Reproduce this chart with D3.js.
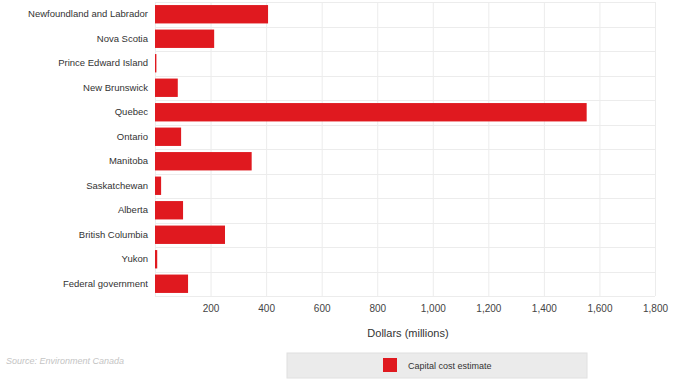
<!DOCTYPE html>
<html><head><meta charset="utf-8">
<script src="https://cdn.jsdelivr.net/npm/d3@7"></script>
<style>body{margin:0;background:#fff;}svg{display:block;font-family:"Liberation Sans",Arial,sans-serif;}</style>
</head><body><svg id="c" width="678" height="381"></svg>
<script>
const categories = ["Newfoundland and Labrador","Nova Scotia","Prince Edward Island","New Brunswick","Quebec","Ontario","Manitoba","Saskatchewan","Alberta","British Columbia","Yukon","Federal government"];
const values = [407,213,5,82,1554,94,348,22,101,252,8,119];
const xTicks = [200,400,600,800,1000,1200,1400,1600,1800];
const seriesName = "Capital cost estimate";
const xTitle = "Dollars (millions)";
const source = "Source: Environment Canada";

const svg = d3.select("#c");
const m = {l:155, r:655, t:2, b:296};
const x = d3.scaleLinear().domain([0,1800]).range([m.l,m.r]);
const y = d3.scaleBand().domain(categories).range([m.t,m.b]).paddingInner(0.25).paddingOuter(0.125);
const red = "#e0191f";

// gridlines
const g = svg.append("g");
g.selectAll(".v").data([0].concat(xTicks)).join("line")
  .attr("x1",d=>x(d)+0.5).attr("x2",d=>x(d)+0.5).attr("y1",m.t).attr("y2",m.b)
  .attr("stroke","#ececec").attr("stroke-width",1);
const bandEdges = categories.map(c=>y(c)-y.step()*y.paddingInner()/2).concat([m.b]);
g.selectAll(".h").data(bandEdges).join("line")
  .attr("x1",m.l).attr("x2",m.r).attr("y1",d=>Math.round(d)+0.5).attr("y2",d=>Math.round(d)+0.5)
  .attr("stroke","#ececec").attr("stroke-width",1);

// bars
svg.append("g").selectAll("rect").data(categories).join("rect")
  .attr("x",x(0)).attr("y",d=>y(d)).attr("height",y.bandwidth())
  .attr("width",(d,i)=>x(values[i])-x(0)).attr("fill",red);

// category labels
const ya = svg.append("g").attr("transform",`translate(${m.l-7},0)`)
  .call(d3.axisLeft(y).tickSize(0).tickPadding(0));
ya.select(".domain").remove();
ya.selectAll("text").attr("font-size","9.5px").attr("fill","#333").attr("font-family","Liberation Sans, Arial, sans-serif");

// x axis
const xa = svg.append("g").attr("transform",`translate(0,${m.b})`)
  .call(d3.axisBottom(x).tickValues(xTicks).tickSize(0).tickPadding(9).tickFormat(d3.format(",")));
xa.select(".domain").remove();
xa.selectAll("text").attr("font-size","10px").attr("fill","#444").attr("font-family","Liberation Sans, Arial, sans-serif");

svg.append("text").attr("x",(x(0)+x(1800))/2+3).attr("y",337).attr("text-anchor","middle")
  .attr("font-size","11px").attr("fill","#333").text(xTitle);

// source
svg.append("text").attr("x",6).attr("y",364).attr("font-size","9px").attr("font-style","italic")
  .attr("fill","#c4c4c4").text(source);

// legend
svg.append("rect").attr("x",287).attr("y",353).attr("width",300).attr("height",25)
  .attr("fill","#ebebeb").attr("stroke","#e0e0e0");
svg.append("rect").attr("x",383).attr("y",358).attr("width",14).attr("height",14).attr("fill",red);
svg.append("text").attr("x",408).attr("y",369).attr("font-size","9px").attr("fill","#333").text(seriesName);
</script></body></html>
